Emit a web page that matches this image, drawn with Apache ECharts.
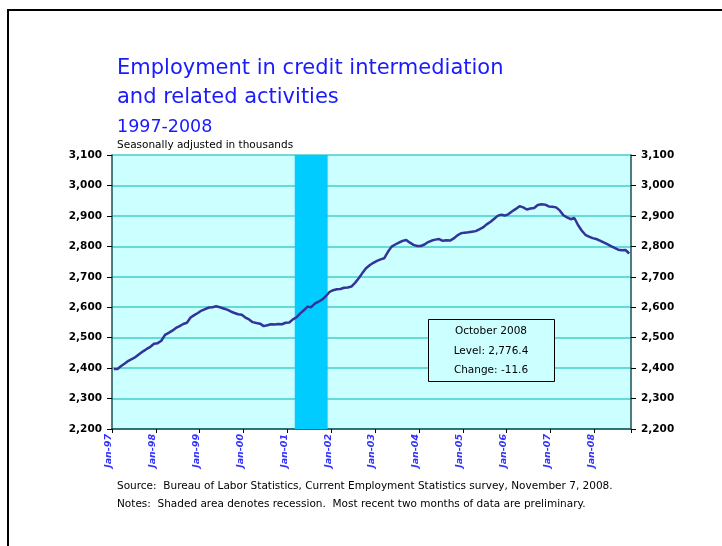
<!DOCTYPE html>
<html><head><meta charset="utf-8">
<script src="https://cdn.jsdelivr.net/npm/echarts@6/dist/echarts.min.js"></script>
<style>html,body{margin:0;padding:0;background:#fff;}#c{width:722px;height:546px;}</style>
</head><body><div id="c"></div>
<script>
// ---- data ----
const startYear = 1997;
const monthNames = ['Jan','Feb','Mar','Apr','May','Jun','Jul','Aug','Sep','Oct','Nov','Dec'];
// Employment in credit intermediation, thousands, Jan-1997 .. Oct-2008
const employment = [
  2397,2397,2407,2415,2424,2430,2437,2446,2455,2463,2470,2480, // 1997
  2482,2490,2509,2516,2523,2532,2538,2545,2549,2566,2574,2581, // 1998
  2589,2594,2599,2600,2603,2600,2596,2592,2586,2581,2577,2575, // 1999
  2566,2560,2551,2548,2546,2538,2541,2544,2543,2545,2544,2549, // 2000
  2550,2560,2567,2580,2590,2602,2600,2612,2618,2625,2636,2650, // 2001
  2656,2659,2660,2664,2665,2668,2680,2695,2712,2728,2738,2746, // 2002
  2752,2757,2761,2782,2799,2806,2812,2818,2821,2812,2805,2801, // 2003
  2801,2806,2814,2819,2822,2824,2818,2820,2819,2826,2836,2843, // 2004
  2845,2846,2848,2850,2856,2862,2872,2880,2890,2900,2904,2901, // 2005
  2906,2915,2923,2932,2928,2921,2924,2926,2936,2938,2937,2931, // 2006
  2930,2928,2918,2902,2895,2889,2893,2870,2852,2838,2832,2827, // 2007
  2824,2819,2813,2807,2801,2795,2789,2787,2788.0,2776.4        // 2008
];
const recessionStart = 'Mar-01', recessionEnd = 'Nov-01';
const yMin = 2200, yMax = 3100, yStep = 100;
const noteTitle = 'October 2008';
const titleLines = ['Employment in credit intermediation', 'and related activities'];
const titleYears = '1997-2008';
const subTitle = 'Seasonally adjusted in thousands';
const sourceText = 'Source:  Bureau of Labor Statistics, Current Employment Statistics survey, November 7, 2008.';
const notesText = 'Notes:  Shaded area denotes recession.  Most recent two months of data are preliminary.';

// ---- build ----
const categories = employment.map((_, i) => {
  const y = startYear + Math.floor(i / 12);
  return monthNames[i % 12] + '-' + String(y).slice(2);
});
const recessionSpan = [[categories.indexOf(recessionStart), categories.indexOf(recessionEnd)]];
const last = employment[employment.length - 1];
const prev = employment[employment.length - 2];
const fmt = v => v.toLocaleString('en-US');
const levelText = 'Level: ' + last.toLocaleString('en-US', {minimumFractionDigits:1, maximumFractionDigits:1});
const changeText = 'Change: ' + (last - prev).toFixed(1);

const FONT = 'DejaVu Sans';
const yAxisCommon = {
  type: 'value', min: yMin, max: yMax, interval: yStep,
  axisLine: {show: true, lineStyle: {color: '#1f4f4f', width: 1.5}},
  axisTick: {show: true, inside: false, length: 5, lineStyle: {color: '#000', width: 1}},
  axisLabel: {color: '#000', fontFamily: FONT, fontWeight: 'bold', fontSize: 10.5, margin: 10, formatter: v => fmt(v)},
  splitLine: {show: true, lineStyle: {color: '#44cccc', width: 1.5}}
};
const txt = (text, x, y, size, color, align, extra) => Object.assign({
  type: 'text', x: x, y: y, z: 100,
  style: {text: text, fill: color, fontFamily: FONT, fontSize: size,
    textAlign: align, align: align, textVerticalAlign: 'middle', verticalAlign: 'middle'}
}, extra || {});

const chart = echarts.init(document.getElementById('c'), null, {renderer: 'canvas'});
chart.setOption({
  animation: false,
  backgroundColor: '#fff',
  grid: {left: 112, right: 91, top: 155, bottom: 117, containLabel: false, outerBoundsMode: 'none',
    show: true, backgroundColor: '#ccffff', borderWidth: 0},
  xAxis: {
    type: 'category', data: categories, boundaryGap: true,
    axisLine: {show: true, onZero: false, lineStyle: {color: '#1f4f4f', width: 1.5}},
    axisTick: {show: true, length: 4, interval: i => i % 12 === 0, lineStyle: {color: '#000'}},
    axisLabel: {interval: i => i % 12 === 0, rotate: 90, margin: 5, color: '#3333ff',
      fontFamily: FONT, fontSize: 9.5, fontWeight: 'bold', fontStyle: 'italic', hideOverlap: false,
      verticalAlign: 'bottom'},
    splitLine: {show: false}
  },
  yAxis: [
    Object.assign({}, yAxisCommon, {position: 'left'}),
    Object.assign({}, yAxisCommon, {position: 'right', splitLine: {show: false}})
  ],
  series: [
    {type: 'custom', data: recessionSpan, silent: true, z: 1,
      encode: {x: [0, 1]},
      renderItem: (params, api) => {
        const a = api.coord([api.value(0), yMax]);
        const b = api.coord([api.value(1), yMin]);
        const bw = api.size([1, 0])[0];
        return {type: 'rect', shape: {x: a[0] - bw / 2, y: a[1], width: b[0] - a[0] + bw, height: b[1] - a[1]},
          style: {fill: '#00ccff'}};
      }},
    {type: 'line', data: employment, showSymbol: false, symbol: 'none',
      lineStyle: {color: '#333399', width: 2.5}, itemStyle: {color: '#333399'}, z: 3}
  ],
  graphic: [
    {type: 'rect', z: 100, shape: {x: 8, y: 10, width: 900, height: 700},
      style: {fill: 'none', stroke: '#000', lineWidth: 2}},
    txt(titleLines[0], 117, 69, 21, '#1a1aff', 'left'),
    txt(titleLines[1], 117, 98, 21, '#1a1aff', 'left'),
    txt(titleYears, 117, 127, 17.5, '#1a1aff', 'left'),
    txt(subTitle, 117, 145, 10.5, '#000', 'left'),
    {type: 'rect', z: 100, shape: {x: 428.5, y: 319.5, width: 126, height: 62},
      style: {fill: '#ccffff', stroke: '#000', lineWidth: 1}},
    txt(noteTitle, 491, 331, 10.5, '#000', 'center'),
    txt(levelText, 491, 351, 10.5, '#000', 'center'),
    txt(changeText, 491, 370, 10.5, '#000', 'center'),
    txt(sourceText, 117, 486, 10.5, '#000', 'left'),
    txt(notesText, 117, 504, 10.5, '#000', 'left')
  ]
});
</script>
</body></html>
